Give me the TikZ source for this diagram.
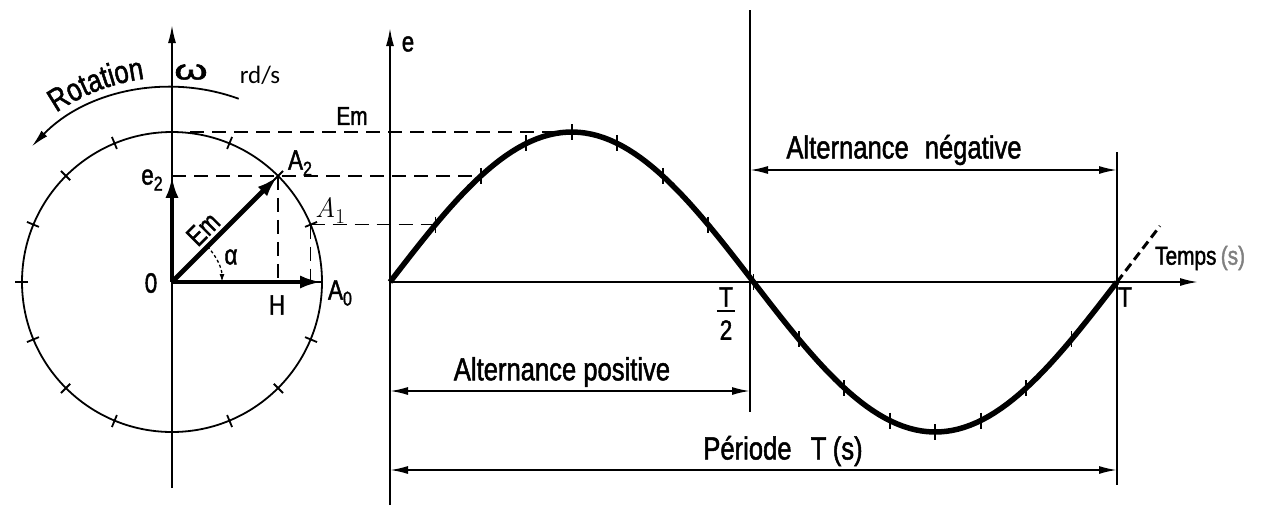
\documentclass[tikz,border=0pt]{standalone}
\usepackage{fontspec}
\setmainfont{Liberation Sans}
\newfontfamily\din[FakeStretch=0.8,FakeBold=1.5]{Liberation Sans}
\newfontfamily\cali{Carlito}
\newfontfamily\lmr{Latin Modern Roman}
\usetikzlibrary{arrows.meta,calc,decorations.text}
\begin{document}
\begin{tikzpicture}[x=1pt,y=-1pt,
  thinl/.style={line width=1.8pt},
  thickl/.style={line width=4.8pt},
  dashl/.style={line width=1.6pt, dash pattern=on 14pt off 8pt},
  lab/.style={font=\din\fontsize{28}{30}\selectfont, inner sep=0pt},
  big/.style={font=\din\fontsize{32}{34}\selectfont, inner sep=0pt},
  arr/.style={-{Latex[length=18pt,width=8pt]}},
  darr/.style={{Latex[length=18pt,width=8pt]}-{Latex[length=18pt,width=8pt]}},
  varr/.style={-{Latex[length=22pt,width=13pt]}},
]
\useasboundingbox (0,0) rectangle (1267,507);
\fill[white] (0,0) rectangle (1267,507);

% ---------- coordinates ----------
\coordinate (O) at (172,282);
\coordinate (A0) at (322,282);
\coordinate (A2) at ({172+150*cos(45)},{282-150*sin(45)});
\coordinate (A1) at ({172+150*cos(22.5)},{282-150*sin(22.5)});
\coordinate (E2) at (172,{282-150*sin(45)});
\coordinate (H) at ({172+150*cos(45)},282);
\coordinate (H1) at ({172+150*cos(22.5)},282);
\coordinate (EmS) at (190,132);
\coordinate (Vtop) at (172,25);
\coordinate (Vbot) at (172,488);
\coordinate (R1) at ($(O)+(-70:195)$);
\coordinate (Rs) at ($(O)+(-127:205)$);
\coordinate (Al1) at ($(O)+(-45:50)$);
\coordinate (Or) at (390,282);
\coordinate (Etop) at (390,28);
\coordinate (Ebot) at (390,505);
\coordinate (Tend) at (1198,282);
\coordinate (Th) at (750,282);
\coordinate (T) at (1117,282);
\coordinate (ThTop) at (750,10);
\coordinate (ThBot) at (750,412);
\coordinate (TTop) at (1117,152);
\coordinate (TBot) at (1117,485);
\coordinate (Peak) at (571.75,132);
\coordinate (P45) at (480.9,{282-150*sin(45)});
\coordinate (P22) at (435.4,{282-150*sin(22.5)});
\coordinate (Cont) at (1160,226);
\coordinate (NegL) at (750,170);
\coordinate (NegR) at (1117,170);
\coordinate (PosL) at (390,391);
\coordinate (PosR) at (750,391);
\coordinate (PerL) at (390,470);
\coordinate (PerR) at (1117,470);

% ---------- phasor circle ----------
\draw[thinl] (O) circle[radius=150];
\foreach \a in {22.5,45,67.5,112.5,135,157.5,180,202.5,225,247.5,292.5,315,337.5}
  \draw[thinl] ({172+144*cos(\a)},{282-144*sin(\a)}) -- ({172+157*cos(\a)},{282-157*sin(\a)});
\draw[thinl, arr] (Vbot) -- (Vtop);
\draw[thinl] (O) -- (A0);
\draw[thinl, arr] (R1) arc[start angle=-70, end angle=-136, radius=195];
\path[decorate, decoration={text along path, text={|\din\fontsize{32}{34}\selectfont|Rotation}, text align=center}]
  (Rs) arc[start angle=-127, end angle=-95, radius=205];

\draw[dashl] (EmS) -- (Peak);
\draw[dashl] (E2) -- (P45);
\draw[dashl] (A1) -- (P22);
\draw[dashl] (A2) -- (H);
\draw[dashl] (A1) -- (H1);

\draw[thickl, varr] (O) -- (A2);
\draw[thickl, varr] (O) -- (E2);
\draw[thickl, varr] (O) -- (A0);
\draw[line width=1.3pt, dash pattern=on 3pt off 2.5pt, -{Latex[length=8pt,width=5pt]}] (Al1) arc[start angle=-45, end angle=0, radius=50];

\node[lab, xscale=1.9] (Lom) at (191,72) {ω};
\node[font=\cali\fontsize{25}{27}\selectfont, inner sep=0pt] (Lrds) at (260,75) {rd/s};
\node[font=\din\fontsize{26}{28}\selectfont, inner sep=0pt] (LEm) at (352,116) {Em};
\node[lab] (Le2) at (152,180) {e\raisebox{-6pt}{\fontsize{20}{22}\selectfont 2}};
\node[lab] (LA2) at (300,163) {A\raisebox{-6pt}{\fontsize{20}{22}\selectfont 2}};
\node[font=\lmr\fontsize{28}{30}\selectfont, inner sep=0pt] (LA1) at (330,210) {\textit{A}\raisebox{-6pt}{\fontsize{21}{23}\selectfont 1}};
\node[lab, rotate=45] (LEmv) at (203,229) {Em};
\node[lab] (Lal) at (231,257) {α};
\node[lab] (LO) at (151,283) {0};
\node[lab] (LA0) at (340,293) {A\raisebox{-6pt}{\fontsize{20}{22}\selectfont 0}};
\node[lab] (LH) at (277,305) {H};

% ---------- time graph ----------
\draw[thinl, arr] (Ebot) -- (Etop);
\draw[thinl, arr] (Or) -- (Tend);
\draw[thinl] (ThTop) -- (ThBot);
\draw[thinl] (TTop) -- (TBot);
\draw[line width=5.5pt, line join=round] plot[domain=0:360, samples=120] ({390+2.019444*\x},{282-150*sin(\x)});
\foreach \a in {22.5,45,...,337.5}
  \draw[thinl] ({390+2.019444*\a},{282-150*sin(\a)-8}) -- ({390+2.019444*\a},{282-150*sin(\a)+8});
\draw[line width=3pt, dash pattern=on 9pt off 5pt] (T) -- (Cont);

\draw[thinl, darr] (NegL) -- (NegR);
\draw[thinl, darr] (PosL) -- (PosR);
\draw[thinl, darr] (PerL) -- (PerR);

\node[lab] (Le) at (408,44) {e};
\node[big] (Lneg) at (904,150) {Alternance\hspace{0.5em}négative};
\node[big] (Lpos) at (562,372) {Alternance positive};
\node[big] (Lper) at (783,451) {Période\hspace{0.6em}T\hspace{0.2em}(s)};
\node[font=\din\fontsize{26}{28}\selectfont, inner sep=0pt, anchor=west] (Ltemps) at (1155,258) {Temps\,\textcolor{gray}{(s)}};
\node[lab] (LT) at (1125,297) {T};
\node[lab] (LTh1) at (726,297) {T};
\node[lab] (LTh2) at (726,330) {2};
\draw[line width=1.4pt] ($(LTh1.south west)+(-2,4)$) coordinate (fl) -- ($(LTh1.south east)+(2,4)$) coordinate (fr);
\end{tikzpicture}
\end{document}
